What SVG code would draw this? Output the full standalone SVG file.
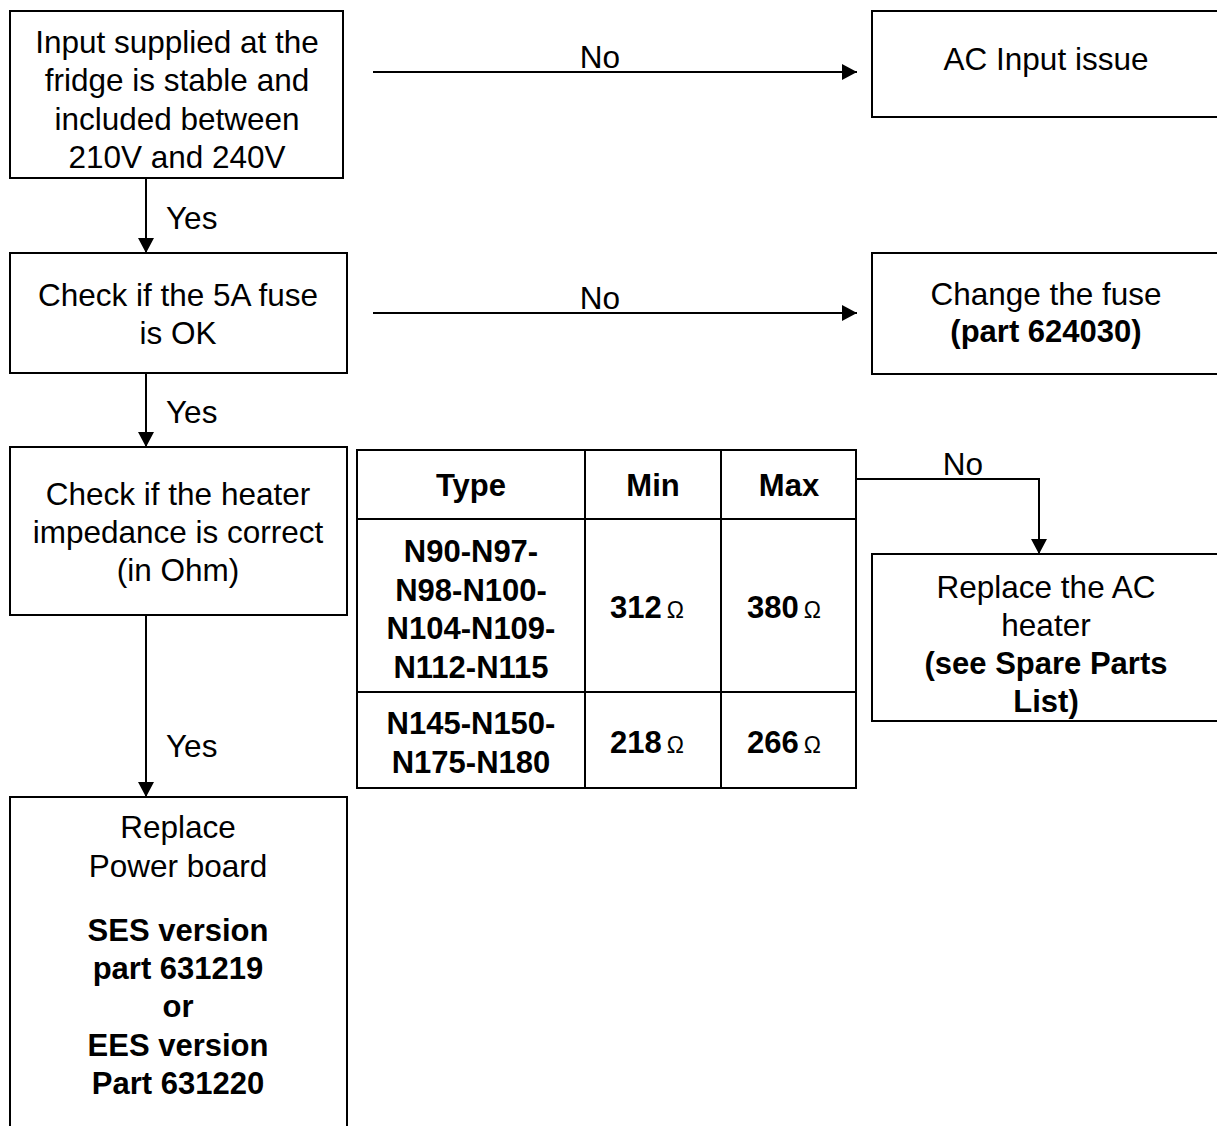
<svg xmlns="http://www.w3.org/2000/svg" width="1217" height="1126" viewBox="0 0 1217 1126">
<defs>
<style>
.box{fill:#fff;stroke:#000;stroke-width:2}
.ln{fill:none;stroke:#000;stroke-width:2}
text{font-family:"Liberation Sans",Arial,Helvetica,sans-serif;font-size:31.5px;fill:#000}
.c{text-anchor:middle}
.b{font-weight:bold;font-size:31px}
.om{font-weight:normal;font-size:23px}
</style>
<marker id="ah" markerUnits="userSpaceOnUse" markerWidth="16" markerHeight="16" refX="15" refY="8" orient="auto">
<path d="M0,0 L15,8 L0,16 Z" fill="#000"/>
</marker>
</defs>
<rect width="1217" height="1126" fill="#fff"/>

<g id="connectors">
<line class="ln" x1="146" y1="178" x2="146" y2="253" marker-end="url(#ah)"/>
<line class="ln" x1="146" y1="373" x2="146" y2="447" marker-end="url(#ah)"/>
<line class="ln" x1="146" y1="615" x2="146" y2="797" marker-end="url(#ah)"/>
<line class="ln" x1="373" y1="72" x2="857" y2="72" marker-end="url(#ah)"/>
<line class="ln" x1="373" y1="313" x2="857" y2="313" marker-end="url(#ah)"/>
<polyline class="ln" points="856,479 1039,479 1039,554" marker-end="url(#ah)"/>
<text x="166" y="229">Yes</text>
<text x="166" y="423">Yes</text>
<text x="166" y="757">Yes</text>
<text x="600" y="68" class="c">No</text>
<text x="600" y="309" class="c">No</text>
<text x="963" y="475" class="c">No</text>
</g>

<g id="n-input">
<rect class="box" x="10" y="11" width="333" height="167"/>
<text class="c" x="177" y="53">Input supplied at the</text>
<text class="c" x="177" y="91">fridge is stable and</text>
<text class="c" x="177" y="130">included between</text>
<text class="c" x="177" y="168">210V and 240V</text>
</g>

<g id="n-acinput">
<rect class="box" x="872" y="11" width="350" height="106"/>
<text class="c" x="1046" y="70">AC Input issue</text>
</g>

<g id="n-fuse">
<rect class="box" x="10" y="253" width="337" height="120"/>
<text class="c" x="178" y="306">Check if the 5A fuse</text>
<text class="c" x="178" y="344">is OK</text>
</g>

<g id="n-changefuse">
<rect class="box" x="872" y="253" width="350" height="121"/>
<text class="c" x="1046" y="305">Change the fuse</text>
<text class="c b" x="1046" y="342">(part 624030)</text>
</g>

<g id="n-heater">
<rect class="box" x="10" y="447" width="337" height="168"/>
<text class="c" x="178" y="505">Check if the heater</text>
<text class="c" x="178" y="543">impedance is correct</text>
<text class="c" x="178" y="581">(in Ohm)</text>
</g>

<g id="n-table">
<rect class="box" x="357" y="450" width="499" height="338"/>
<line class="ln" x1="357" y1="519" x2="856" y2="519"/>
<line class="ln" x1="357" y1="692" x2="856" y2="692"/>
<line class="ln" x1="585" y1="450" x2="585" y2="788"/>
<line class="ln" x1="721" y1="450" x2="721" y2="788"/>
<text class="c b" x="471" y="496">Type</text>
<text class="c b" x="653" y="496">Min</text>
<text class="c b" x="789" y="496">Max</text>
<text class="c b" x="471" y="562">N90-N97-</text>
<text class="c b" x="471" y="601">N98-N100-</text>
<text class="c b" x="471" y="639">N104-N109-</text>
<text class="c b" x="471" y="678">N112-N115</text>
<text class="c b" x="471" y="734">N145-N150-</text>
<text class="c b" x="471" y="773">N175-N180</text>
<text class="b" x="610" y="618">312<tspan class="om" dx="5">Ω</tspan></text>
<text class="b" x="747" y="618">380<tspan class="om" dx="5">Ω</tspan></text>
<text class="b" x="610" y="753">218<tspan class="om" dx="5">Ω</tspan></text>
<text class="b" x="747" y="753">266<tspan class="om" dx="5">Ω</tspan></text>
</g>

<g id="n-acheater">
<rect class="box" x="872" y="554" width="350" height="167"/>
<text class="c" x="1046" y="598">Replace the AC</text>
<text class="c" x="1046" y="636">heater</text>
<text class="c b" x="1046" y="674">(see Spare Parts</text>
<text class="c b" x="1046" y="712">List)</text>
</g>

<g id="n-power">
<rect class="box" x="10" y="797" width="337" height="340"/>
<text class="c" x="178" y="838">Replace</text>
<text class="c" x="178" y="877">Power board</text>
<text class="c b" x="178" y="941">SES version</text>
<text class="c b" x="178" y="979">part 631219</text>
<text class="c b" x="178" y="1017">or</text>
<text class="c b" x="178" y="1056">EES version</text>
<text class="c b" x="178" y="1094">Part 631220</text>
</g>
</svg>
